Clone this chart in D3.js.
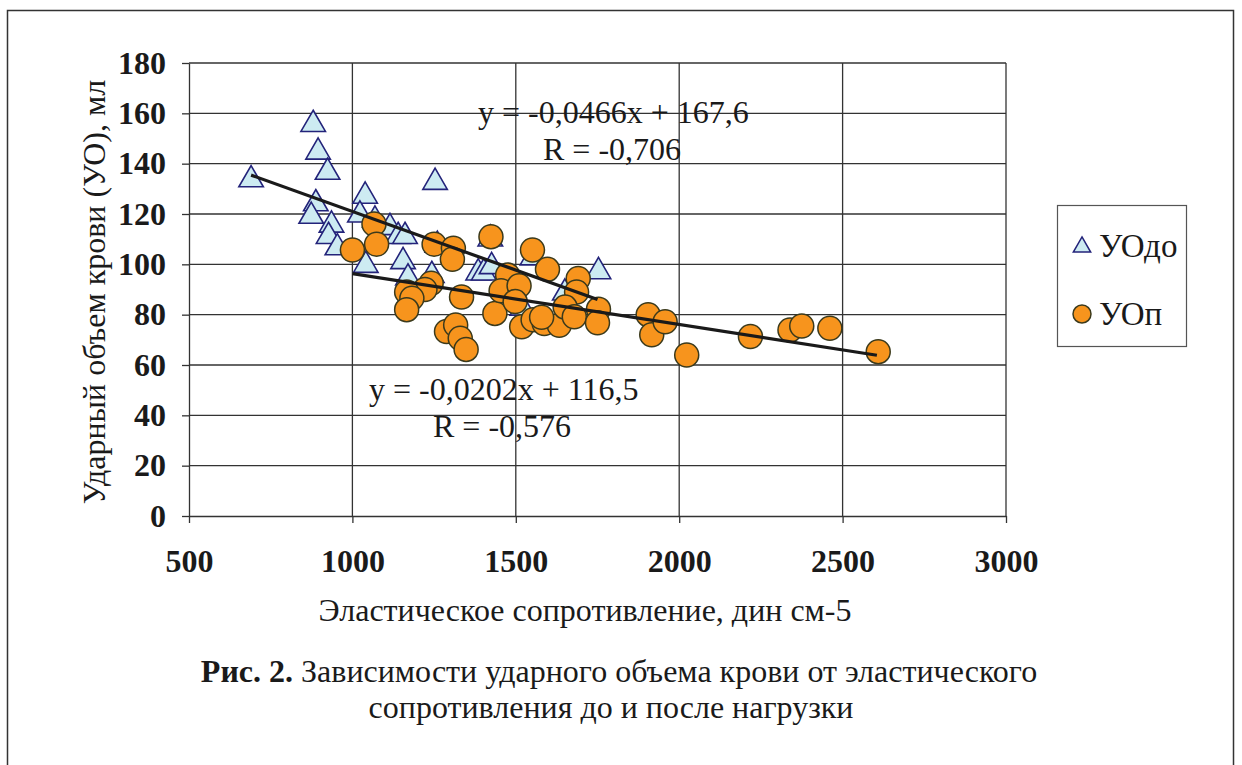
<!doctype html>
<html>
<head>
<meta charset="utf-8">
<script src="https://cdn.jsdelivr.net/npm/d3@7"></script>
<style>
  body { margin: 0; background: #fff; }
  svg text { font-family: "Liberation Serif", "Times New Roman", serif; }
  .tick text { font-size: 32px; font-weight: 700; fill: #1a1a1a; font-family: "Liberation Serif", "Times New Roman", serif; }
  .tick line { stroke: #333; stroke-width: 1.3; }
  .domain { stroke: #333; stroke-width: 1.3; }
</style>
</head>
<body>
<svg id="chart" width="1242" height="765"></svg>
<script>
// series: before load (triangles) and after load (circles)
const preX = [690, 880, 895, 924, 888, 874, 936, 927, 954, 1039, 1023, 1069, 1115, 1140, 1161,
              1041, 1155, 1170, 1243, 1253, 1260, 1385, 1402, 1426, 1422, 1551, 1650, 1753, 1520];
const preY = [135, 157, 146, 138, 125.5, 120.5, 117, 112.5, 108, 128.5, 121, 119, 116, 112.5, 112.5,
              101, 102.5, 96, 97, 134, 109, 98, 98, 100.5, 111.5, 104, 90, 98.5, 84];

const postX = [1000, 1066, 1074, 1250, 1309, 1306, 1424, 1241, 1222, 1166, 1182, 1166, 1334, 1288, 1316,
               1330, 1348, 1436, 1475, 1455, 1510, 1498, 1551, 1597, 1691, 1686, 1518, 1553, 1587, 1633,
               1651, 1679, 1753, 1750, 1905, 1916, 1957, 2023, 2218, 2339, 2375, 2461, 2609, 1579];
const postY = [105.7, 116, 108, 108, 106.4, 102, 111, 92.5, 90, 89, 86.5, 82, 87, 73.3, 75.9,
               70.6, 66.2, 80.5, 95.8, 89.5, 91.5, 85.2, 105.7, 98, 94.4, 89, 75.2, 78, 76.5, 75.8,
               83, 79.2, 82.2, 76.8, 80, 72, 77.2, 64, 71.3, 73.9, 75.5, 74.6, 65.3, 79];

// linear trend lines: slope, intercept, x range
const trendPre = { slope: -0.0466, intercept: 167.6, from: 690, to: 1750 };
const trendPost = { slope: -0.0202, intercept: 116.5, from: 1000, to: 2605 };

const xTicks = [500, 1000, 1500, 2000, 2500, 3000];
const yTicks = [0, 20, 40, 60, 80, 100, 120, 140, 160, 180];

const seriesNames = ["УОдо", "УОп"];
const eqPre = ["y = -0,0466x + 167,6", "R = -0,706"];
const eqPost = ["y = -0,0202x + 116,5", "R = -0,576"];
const xTitle = "Эластическое сопротивление, дин см-5";
const yTitle = "Ударный объем крови (УО), мл";
const captionBold = "Рис. 2.";
const captionRest = " Зависимости ударного объема крови от эластического";
const captionLine2 = "сопротивления до и после нагрузки";

const triFill = "#cdebf2", triStroke = "#23237a";
const dotFill = "#f7941d", dotStroke = "#3b3a1c";
const ink = "#1a1a1a";

const svg = d3.select("#chart");

// outer frame
svg.append("rect")
  .attr("x", 7.5).attr("y", 10.5)
  .attr("width", 1226).attr("height", 790)
  .attr("fill", "none").attr("stroke", "#333").attr("stroke-width", 1.5);

const plot = { left: 189, right: 1006, top: 63, bottom: 516 };

const x = d3.scaleLinear().domain([500, 3000]).range([plot.left, plot.right]);
const y = d3.scaleLinear().domain([0, 180]).range([plot.bottom, plot.top]);

// grid
const grid = svg.append("g").attr("stroke", "#333").attr("stroke-width", 1.3);
grid.selectAll(".hg").data(yTicks.slice(1)).enter().append("line")
  .attr("x1", plot.left).attr("x2", plot.right)
  .attr("y1", d => y(d)).attr("y2", d => y(d));
grid.selectAll(".vg").data(xTicks.slice(1)).enter().append("line")
  .attr("y1", plot.top).attr("y2", plot.bottom)
  .attr("x1", d => x(d)).attr("x2", d => x(d));

// axes
svg.append("g")
  .attr("transform", "translate(" + plot.left + ",0)")
  .call(d3.axisLeft(y).tickValues(yTicks).tickFormat(d3.format("d"))
    .tickSize(7).tickPadding(16).tickSizeOuter(0));

svg.append("g")
  .attr("transform", "translate(0," + plot.bottom + ")")
  .call(d3.axisBottom(x).tickValues(xTicks).tickFormat(d3.format("d"))
    .tickSize(7).tickPadding(26).tickSizeOuter(0));

// triangles (drawn first, circles on top)
const tri = d3.symbol().type(d3.symbolTriangle).size(260);
svg.append("g").selectAll("path")
  .data(preX.map((d, i) => [d, preY[i]]))
  .enter().append("path")
    .attr("d", tri)
    .attr("transform", d => "translate(" + x(d[0]) + "," + (y(d[1]) + 3.5) + ")")
    .attr("fill", triFill).attr("stroke", triStroke).attr("stroke-width", 1.6);

svg.append("g").selectAll("circle")
  .data(postX.map((d, i) => [d, postY[i]]))
  .enter().append("circle")
    .attr("cx", d => x(d[0]))
    .attr("cy", d => y(d[1]))
    .attr("r", 12)
    .attr("fill", dotFill).attr("stroke", dotStroke).attr("stroke-width", 1.5);

// trend lines
[trendPre, trendPost].forEach(t => {
  svg.append("line")
    .attr("x1", x(t.from)).attr("y1", y(t.slope * t.from + t.intercept))
    .attr("x2", x(t.to)).attr("y2", y(t.slope * t.to + t.intercept))
    .attr("stroke", ink).attr("stroke-width", 3.2);
});

// equations
const eqStyle = s => s.attr("font-size", 32).attr("fill", ink);
svg.append("text").attr("x", 478).attr("y", 123).text(eqPre[0]).call(eqStyle);
svg.append("text").attr("x", 543).attr("y", 160).text(eqPre[1]).call(eqStyle);
svg.append("text").attr("x", 369).attr("y", 400).text(eqPost[0]).call(eqStyle);
svg.append("text").attr("x", 433).attr("y", 437).text(eqPost[1]).call(eqStyle);

// axis titles
svg.append("text")
  .attr("x", 585).attr("y", 621)
  .attr("text-anchor", "middle").attr("font-size", 32).attr("fill", ink)
  .text(xTitle);

svg.append("text")
  .attr("transform", "translate(105,292) rotate(-90)")
  .attr("text-anchor", "middle").attr("font-size", 32).attr("fill", ink)
  .text(yTitle);

// legend
const legend = svg.append("g");
legend.append("rect")
  .attr("x", 1057.5).attr("y", 205.5).attr("width", 129).attr("height", 141)
  .attr("fill", "#fff").attr("stroke", "#555").attr("stroke-width", 1.2);
legend.append("path")
  .attr("d", d3.symbol().type(d3.symbolTriangle).size(130))
  .attr("transform", "translate(1082,247)")
  .attr("fill", triFill).attr("stroke", triStroke).attr("stroke-width", 1.5);
legend.append("circle")
  .attr("cx", 1082).attr("cy", 314).attr("r", 9)
  .attr("fill", dotFill).attr("stroke", dotStroke).attr("stroke-width", 1.5);
legend.selectAll(".lt").data(seriesNames).enter().append("text")
  .attr("x", 1099).attr("y", (d, i) => 257 + i * 68)
  .attr("font-size", 33).attr("fill", ink)
  .text(d => d);

// caption
const cap = svg.append("text")
  .attr("x", 619).attr("y", 682)
  .attr("text-anchor", "middle").attr("font-size", 32).attr("fill", ink);
cap.append("tspan").attr("font-weight", 700).text(captionBold);
cap.append("tspan").text(captionRest);

svg.append("text")
  .attr("x", 611).attr("y", 718)
  .attr("text-anchor", "middle").attr("font-size", 32).attr("fill", ink)
  .text(captionLine2);
</script>
</body>
</html>
